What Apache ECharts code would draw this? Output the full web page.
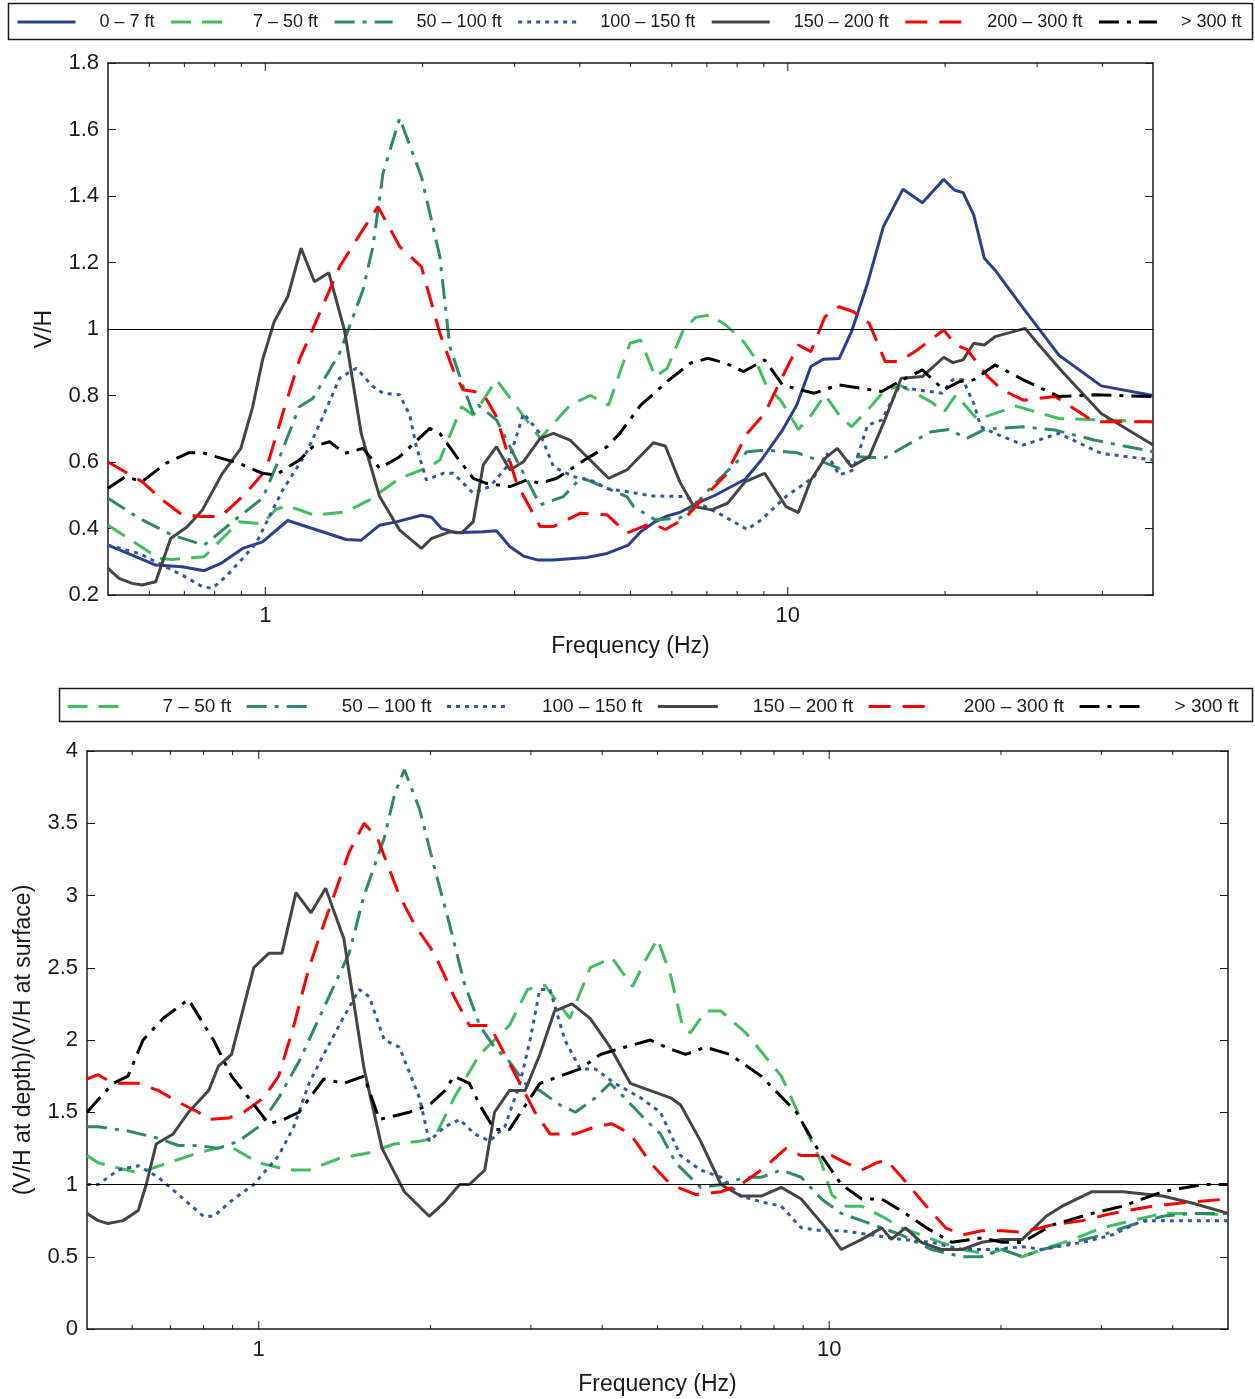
<!DOCTYPE html>
<html>
<head>
<meta charset="utf-8">
<title>V/H spectral ratios by depth</title>
<script src="https://cdn.jsdelivr.net/npm/echarts@6/dist/echarts.min.js"></script>
<style>
  html, body { margin: 0; padding: 0; background: #fff; }
  #chart { width: 1255px; height: 1399px; }
</style>
</head>
<body>
<div id="chart"></div>
<script>
// ---- data -----------------------------------------------------------
const depthBands = ['0 – 7 ft', '7 – 50 ft', '50 – 100 ft', '100 – 150 ft', '150 – 200 ft', '200 – 300 ft', '> 300 ft'];

const xTickLabels = [1, 10];
const xMinorTicks = [0.6, 0.7, 0.8, 0.9, 2, 3, 4, 5, 6, 7, 8, 9, 20, 30, 40];

// V/H spectra, [frequency (Hz), V/H]
const vh_0_7 = [[0.5,0.35],[0.556,0.32],[0.617,0.29],[0.693,0.285],[0.764,0.273],[0.822,0.295],[0.905,0.34],[0.988,0.36],[1.104,0.424],[1.428,0.367],[1.526,0.365],[1.655,0.41],[1.781,0.42],[1.99,0.44],[2.08,0.434],[2.175,0.40],[2.32,0.387],[2.61,0.39],[2.77,0.393],[2.94,0.345],[3.12,0.317],[3.33,0.305],[3.56,0.305],[4.12,0.313],[4.51,0.325],[4.95,0.35],[5.23,0.39],[5.57,0.42],[5.88,0.438],[6.21,0.448],[6.71,0.476],[7.26,0.50],[8.29,0.548],[8.9,0.606],[9.77,0.696],[10.4,0.771],[11.07,0.887],[11.69,0.909],[12.54,0.911],[13.24,0.992],[14.21,1.137],[15.24,1.308],[16.61,1.42],[18.1,1.38],[19.88,1.45],[20.83,1.418],[21.65,1.41],[22.69,1.343],[23.78,1.213],[24.93,1.177],[28.24,1.062],[33.0,0.922],[39.8,0.829],[50,0.80]];
const vh_7_50 = [[0.5,0.41],[0.626,0.31],[0.664,0.307],[0.764,0.315],[0.804,0.35],[0.891,0.42],[0.988,0.414],[1.048,0.458],[1.104,0.468],[1.242,0.44],[1.428,0.45],[1.583,0.486],[1.808,0.551],[2.064,0.586],[2.158,0.606],[2.375,0.766],[2.5,0.741],[2.77,0.847],[3.36,0.671],[3.83,0.771],[4.19,0.80],[4.54,0.771],[4.99,0.957],[5.23,0.967],[5.57,0.857],[5.88,0.882],[6.31,0.997],[6.66,1.035],[7.09,1.042],[7.61,1.012],[8.23,0.962],[8.62,0.917],[9.11,0.827],[9.69,0.786],[10.48,0.698],[11.15,0.746],[11.78,0.802],[12.54,0.741],[13.24,0.706],[14.21,0.756],[15.36,0.817],[16.48,0.829],[18.82,0.781],[19.88,0.749],[20.99,0.802],[23.06,0.728],[27.36,0.768],[33.0,0.731],[50,0.721]];
const vh_50_100 = [[0.5,0.491],[0.573,0.431],[0.664,0.38],[0.764,0.35],[0.891,0.436],[0.988,0.491],[1.048,0.586],[1.162,0.766],[1.233,0.791],[1.387,0.927],[1.538,1.117],[1.607,1.248],[1.68,1.468],[1.808,1.634],[1.99,1.458],[2.158,1.218],[2.255,0.947],[2.392,0.827],[2.5,0.746],[2.557,0.771],[2.772,0.726],[3.027,0.606],[3.357,0.471],[3.72,0.496],[4.01,0.551],[4.13,0.546],[4.92,0.496],[5.07,0.466],[5.57,0.426],[6.21,0.431],[6.61,0.466],[7.15,0.526],[8.36,0.631],[9.03,0.636],[10.4,0.628],[11.42,0.606],[12.54,0.581],[13.35,0.616],[15.36,0.613],[17.13,0.656],[18.82,0.691],[20.34,0.698],[22.0,0.671],[23.78,0.698],[28.24,0.706],[32.5,0.696],[38.6,0.666],[50,0.631]];
const vh_100_150 = [[0.5,0.35],[0.573,0.325],[0.626,0.295],[0.693,0.26],[0.758,0.225],[0.792,0.22],[0.84,0.255],[0.905,0.31],[0.96,0.355],[1.018,0.436],[1.08,0.516],[1.197,0.626],[1.289,0.736],[1.387,0.852],[1.493,0.882],[1.607,0.827],[1.68,0.807],[1.808,0.802],[1.89,0.741],[1.946,0.646],[2.034,0.546],[2.19,0.566],[2.29,0.566],[2.5,0.506],[2.69,0.526],[2.9,0.586],[3.12,0.746],[3.357,0.686],[3.56,0.586],[3.89,0.556],[4.19,0.546],[4.51,0.52],[4.92,0.511],[5.48,0.498],[6.36,0.496],[7.37,0.446],[8.36,0.397],[8.9,0.426],[9.92,0.496],[11.24,0.556],[11.87,0.626],[12.54,0.561],[13.35,0.576],[14.21,0.711],[15.12,0.726],[16.35,0.827],[17.68,0.817],[19.72,0.807],[20.66,0.847],[21.65,0.847],[22.69,0.776],[23.41,0.706],[24.93,0.686],[28.24,0.651],[33.0,0.686],[39.8,0.626],[50,0.606]];
const vh_150_200 = [[0.5,0.28],[0.525,0.25],[0.556,0.235],[0.581,0.23],[0.617,0.24],[0.659,0.37],[0.709,0.405],[0.758,0.456],[0.828,0.566],[0.898,0.641],[0.946,0.766],[0.988,0.907],[1.04,1.022],[1.104,1.097],[1.171,1.243],[1.242,1.142],[1.323,1.169],[1.418,0.996],[1.526,0.686],[1.655,0.496],[1.808,0.395],[1.99,0.34],[2.08,0.37],[2.255,0.39],[2.375,0.387],[2.5,0.42],[2.613,0.591],[2.77,0.646],[2.94,0.576],[3.12,0.601],[3.357,0.671],[3.56,0.686],[3.83,0.666],[4.54,0.551],[4.92,0.576],[5.53,0.658],[5.83,0.648],[6.21,0.541],[6.61,0.466],[7.15,0.456],[7.67,0.476],[8.29,0.541],[9.03,0.566],[9.92,0.466],[10.48,0.448],[11.07,0.546],[11.78,0.611],[12.44,0.641],[13.24,0.586],[14.32,0.616],[15.24,0.716],[16.48,0.852],[18.1,0.857],[19.88,0.915],[20.7,0.899],[21.65,0.907],[22.69,0.957],[23.78,0.952],[24.93,0.977],[28.46,1.002],[30.06,0.957],[33.5,0.872],[39.8,0.746],[50,0.651]];
const vh_200_300 = [[0.5,0.6],[0.581,0.541],[0.635,0.486],[0.693,0.441],[0.758,0.436],[0.822,0.436],[0.918,0.506],[1.003,0.576],[1.08,0.746],[1.162,0.907],[1.27,1.047],[1.387,1.187],[1.515,1.283],[1.643,1.368],[1.808,1.248],[1.99,1.187],[2.158,0.987],[2.289,0.877],[2.39,0.817],[2.61,0.807],[2.77,0.736],[3.027,0.536],[3.357,0.406],[3.56,0.406],[4.01,0.446],[4.51,0.441],[4.92,0.386],[5.48,0.416],[5.83,0.397],[6.36,0.431],[6.93,0.496],[7.61,0.561],[8.36,0.686],[9.03,0.746],[9.77,0.857],[10.48,0.952],[11.07,0.932],[11.78,1.037],[12.54,1.067],[13.35,1.052],[14.32,1.017],[15.36,0.902],[16.35,0.902],[17.69,0.937],[19.88,0.997],[20.99,0.952],[22.0,0.939],[24.15,0.857],[25.71,0.817],[28.24,0.786],[32.5,0.797],[38.6,0.721],[50,0.721]];
const vh_300 = [[0.5,0.521],[0.54,0.556],[0.581,0.541],[0.645,0.596],[0.715,0.628],[0.758,0.628],[0.804,0.616],[0.891,0.596],[0.988,0.566],[1.048,0.561],[1.162,0.606],[1.233,0.646],[1.327,0.661],[1.418,0.626],[1.538,0.641],[1.655,0.581],[1.808,0.616],[2.064,0.701],[2.158,0.686],[2.323,0.616],[2.5,0.551],[2.65,0.536],[2.94,0.526],[3.166,0.546],[3.357,0.536],[3.614,0.551],[4.13,0.611],[4.51,0.646],[4.77,0.686],[5.23,0.771],[5.93,0.847],[6.51,0.897],[7.03,0.912],[7.61,0.897],[8.23,0.872],[9.03,0.907],[9.77,0.832],[10.56,0.817],[11.24,0.807],[12.54,0.832],[13.77,0.822],[15.13,0.812],[16.35,0.842],[18.1,0.877],[19.88,0.817],[21.32,0.842],[22.69,0.847],[24.93,0.892],[28.24,0.847],[33.0,0.797],[38.6,0.802],[50,0.797]];

// Ratio of V/H at depth to V/H at surface, [frequency (Hz), ratio]
const ratio_7_50 = [[0.5,1.2],[0.523,1.15],[0.615,1.08],[0.784,1.22],[0.885,1.27],[1.0,1.15],[1.129,1.1],[1.225,1.1],[1.383,1.18],[1.562,1.22],[1.728,1.28],[1.913,1.3],[2.03,1.32],[2.2,1.6],[2.44,1.9],[2.59,2.0],[2.75,2.1],[2.96,2.35],[3.17,2.38],[3.51,2.15],[3.81,2.5],[4.16,2.57],[4.52,2.37],[4.76,2.55],[5.0,2.7],[5.27,2.45],[5.53,2.1],[5.71,2.05],[6.07,2.2],[6.46,2.2],[7.14,2.05],[8.24,1.75],[8.93,1.45],[9.69,1.15],[10.1,0.93],[10.7,0.85],[11.4,0.85],[12.36,0.78],[13.4,0.7],[14.5,0.65],[15.7,0.6],[17.1,0.55],[18.9,0.52],[20.1,0.55],[21.8,0.5],[23.6,0.55],[26.7,0.62],[30.1,0.7],[33.9,0.75],[38.4,0.8],[43.4,0.8],[50,0.79]];
const ratio_50_100 = [[0.5,1.4],[0.523,1.4],[0.59,1.37],[0.667,1.32],[0.723,1.27],[0.784,1.27],[0.85,1.25],[0.922,1.3],[1.0,1.4],[1.084,1.6],[1.176,1.85],[1.225,2.0],[1.328,2.3],[1.44,2.6],[1.53,3.0],[1.66,3.4],[1.73,3.7],[1.8,3.87],[1.913,3.6],[2.03,3.2],[2.16,2.8],[2.29,2.4],[2.44,2.1],[2.59,1.95],[2.75,1.85],[2.93,1.7],[3.11,1.65],[3.375,1.55],[3.59,1.5],[3.89,1.6],[4.13,1.7],[4.38,1.6],[4.76,1.45],[5.06,1.35],[5.38,1.15],[5.95,0.98],[6.46,1.0],[7.14,1.05],[7.6,1.05],[8.24,1.1],[8.93,1.05],[9.69,0.9],[10.5,0.8],[11.4,0.75],[12.36,0.7],[13.4,0.65],[15.1,0.55],[17.1,0.5],[18.5,0.5],[20.1,0.55],[21.8,0.5],[23.6,0.55],[26.7,0.6],[30.1,0.65],[33.9,0.72],[38.4,0.78],[43.4,0.8],[50,0.8]];
const ratio_100_150 = [[0.5,1.0],[0.523,1.0],[0.567,1.1],[0.615,1.13],[0.667,1.05],[0.738,0.9],[0.8,0.78],[0.833,0.78],[0.904,0.9],[0.98,1.0],[1.084,1.2],[1.152,1.4],[1.225,1.7],[1.3,1.9],[1.383,2.1],[1.5,2.35],[1.562,2.3],[1.66,2.0],[1.764,1.95],[1.913,1.6],[1.99,1.3],[2.12,1.4],[2.25,1.45],[2.39,1.35],[2.54,1.3],[2.7,1.4],[2.87,1.7],[2.99,2.0],[3.11,2.35],[3.24,2.35],[3.44,2.0],[3.66,1.8],[3.89,1.8],[4.21,1.7],[4.67,1.6],[5.06,1.5],[5.49,1.2],[5.95,1.1],[6.46,1.05],[7.0,0.92],[7.6,0.88],[8.24,0.85],[8.93,0.7],[9.69,0.68],[10.5,0.68],[11.9,0.65],[13.4,0.62],[15.1,0.6],[17.1,0.55],[19.3,0.55],[21.8,0.57],[23.6,0.55],[27.8,0.6],[31.3,0.65],[35.4,0.75],[41.7,0.75],[50,0.75]];
const ratio_150_200 = [[0.5,0.8],[0.523,0.75],[0.544,0.73],[0.578,0.75],[0.615,0.82],[0.635,1.0],[0.661,1.28],[0.708,1.35],[0.753,1.5],[0.817,1.65],[0.85,1.82],[0.896,1.9],[0.98,2.5],[1.041,2.6],[1.098,2.6],[1.162,3.02],[1.235,2.88],[1.31,3.05],[1.41,2.7],[1.53,1.8],[1.645,1.25],[1.8,0.95],[1.99,0.78],[2.12,0.88],[2.25,1.0],[2.34,1.0],[2.49,1.1],[2.59,1.5],[2.75,1.65],[2.93,1.65],[3.11,1.9],[3.3,2.2],[3.54,2.25],[3.81,2.15],[4.13,1.95],[4.48,1.7],[4.86,1.65],[5.27,1.6],[5.49,1.55],[5.95,1.3],[6.46,1.0],[7.0,0.92],[7.6,0.92],[8.24,0.98],[8.93,0.9],[9.86,0.7],[10.5,0.55],[11.4,0.62],[12.36,0.7],[12.85,0.62],[13.6,0.7],[14.5,0.6],[15.7,0.55],[17.1,0.55],[18.5,0.6],[20.1,0.62],[21.8,0.62],[24.0,0.78],[25.6,0.85],[28.9,0.95],[32.7,0.95],[38.4,0.92],[43.4,0.87],[50,0.8]];
const ratio_200_300 = [[0.5,1.73],[0.523,1.76],[0.555,1.7],[0.615,1.7],[0.667,1.65],[0.723,1.57],[0.784,1.5],[0.817,1.45],[0.885,1.46],[0.941,1.5],[1.02,1.6],[1.084,1.75],[1.152,2.1],[1.225,2.5],[1.3,2.8],[1.383,3.1],[1.44,3.3],[1.53,3.5],[1.613,3.4],[1.764,3.0],[1.874,2.8],[2.03,2.6],[2.2,2.3],[2.34,2.1],[2.54,2.1],[2.7,1.9],[2.87,1.7],[3.05,1.5],[3.24,1.35],[3.59,1.35],[3.89,1.4],[4.16,1.42],[4.48,1.35],[4.86,1.15],[5.27,1.0],[5.84,0.93],[6.46,0.95],[7.0,1.0],[7.6,1.1],[8.4,1.25],[8.93,1.2],[10.1,1.2],[10.7,1.15],[11.4,1.1],[12.1,1.15],[12.6,1.17],[13.4,1.05],[14.8,0.85],[16.0,0.7],[17.1,0.65],[18.5,0.68],[20.1,0.68],[21.8,0.67],[24.6,0.72],[27.8,0.75],[31.3,0.8],[36.8,0.85],[43.4,0.88],[50,0.9]];
const ratio_300 = [[0.5,1.5],[0.555,1.7],[0.59,1.75],[0.627,2.0],[0.68,2.15],[0.753,2.28],[0.833,2.0],[0.896,1.75],[0.96,1.6],[1.041,1.42],[1.107,1.45],[1.176,1.5],[1.3,1.73],[1.41,1.7],[1.53,1.75],[1.627,1.45],[1.836,1.5],[1.99,1.55],[2.12,1.65],[2.2,1.75],[2.34,1.7],[2.44,1.55],[2.59,1.38],[2.75,1.38],[3.11,1.7],[3.375,1.75],[3.66,1.8],[3.97,1.9],[4.38,1.95],[4.86,2.0],[5.17,1.95],[5.6,1.9],[6.07,1.95],[6.7,1.9],[7.6,1.75],[8.76,1.5],[9.69,1.2],[10.5,1.0],[11.4,0.9],[12.36,0.9],[13.6,0.8],[14.8,0.7],[16.4,0.6],[18.5,0.63],[20.1,0.6],[21.8,0.6],[24.6,0.72],[28.9,0.8],[32.7,0.85],[38.4,0.95],[45.2,1.0],[50,1.0]];

// ---- styling ----------------------------------------------------------
const FONT = "'Liberation Sans', Arial, Helvetica, sans-serif";
const INK = '#1a1a1a';

const bandStyle = {
  '0 – 7 ft':     { color: '#2b3f91', dash: 'solid' },
  '7 – 50 ft':    { color: '#3fbf5e', dash: [20, 11] },
  '50 – 100 ft':  { color: '#2c8a66', dash: [20, 8, 4, 8] },
  '100 – 150 ft': { color: '#3159a8', dash: [4, 5] },
  '150 – 200 ft': { color: '#454545', dash: 'solid' },
  '200 – 300 ft': { color: '#ff0000', dash: [22, 12] },
  '> 300 ft':     { color: '#000000', dash: [20, 8, 4, 8] }
};

const vhSeries = [vh_0_7, vh_7_50, vh_50_100, vh_100_150, vh_150_200, vh_200_300, vh_300];
const ratioSeries = [ratio_7_50, ratio_50_100, ratio_100_150, ratio_150_200, ratio_200_300, ratio_300];

// axis indices: 0/1 belong to the upper plot, 2/3 to the lower plot
const UPPER = 0, LOWER = 2;

function curve(name, data, axisIdx, withUnityLine) {
  const st = bandStyle[name];
  const s = {
    name, type: 'line', data,
    xAxisIndex: axisIdx, yAxisIndex: axisIdx,
    symbol: 'none', showSymbol: false, smooth: false,
    lineStyle: { color: st.color, width: 3, type: st.dash },
    itemStyle: { color: st.color },
    emphasis: { disabled: true },
    z: 3
  };
  if (withUnityLine) {
    s.markLine = {
      silent: true, symbol: 'none', animation: false,
      label: { show: false },
      lineStyle: { color: '#000', width: 1, type: 'solid' },
      emphasis: { disabled: true },
      data: [{ yAxis: 1 }]
    };
  }
  return s;
}

// frequency ticks drawn on the bottom and top edges of a plot box
function freqTicks(axisIdx, yLo, yHi) {
  const all = xTickLabels.map(v => [v, yLo, 8]).concat(xMinorTicks.map(v => [v, yLo, 4]));
  return {
    type: 'custom', silent: true, animation: false,
    xAxisIndex: axisIdx, yAxisIndex: axisIdx,
    data: all, z: 4,
    renderItem(params, api) {
      const f = api.value(0), len = api.value(2);
      const b = api.coord([f, yLo]);
      const t = api.coord([f, yHi]);
      const ls = { stroke: INK, lineWidth: 1 };
      return {
        type: 'group',
        children: [
          { type: 'line', shape: { x1: b[0], y1: b[1], x2: b[0], y2: b[1] - len }, style: ls },
          { type: 'line', shape: { x1: t[0], y1: t[1], x2: t[0], y2: t[1] + len }, style: ls }
        ]
      };
    }
  };
}

function freqAxis(gridIdx, position, nameGap) {
  const main = position === 'bottom';
  return {
    type: 'log', logBase: 10, min: 0.5, max: 50, gridIndex: gridIdx, position,
    name: main ? 'Frequency (Hz)' : '', nameLocation: 'middle', nameGap,
    nameTextStyle: { fontFamily: FONT, fontSize: 23, color: INK },
    axisLine: { show: true, onZero: false, lineStyle: { color: INK, width: 1.5 } },
    axisTick: { show: false },
    splitLine: { show: false }, minorSplitLine: { show: false },
    axisLabel: {
      show: main, margin: 10, fontFamily: FONT, fontSize: 22, color: INK,
      formatter: v => (xTickLabels.some(t => Math.abs(t - v) < 1e-6 * t) ? String(Math.round(v)) : '')
    }
  };
}

function valueAxis(gridIdx, position, min, max, interval, name, nameGap) {
  const main = position === 'left';
  return {
    type: 'value', gridIndex: gridIdx, position, min, max, interval,
    name: main ? name : '', nameLocation: 'middle', nameGap,
    nameTextStyle: { fontFamily: FONT, fontSize: 23, color: INK },
    axisLine: { show: true, onZero: false, lineStyle: { color: INK, width: 1.5 } },
    axisTick: { show: true, inside: true, length: 8, lineStyle: { color: INK, width: 1 } },
    splitLine: { show: false },
    axisLabel: { show: main, margin: 9, fontFamily: FONT, fontSize: 22, color: INK }
  };
}

const legendCommon = {
  orient: 'horizontal', itemWidth: 58, itemHeight: 16, padding: 0, width: 1240,
  selectedMode: false,
  itemStyle: { opacity: 0, borderWidth: 0 },
  lineStyle: { width: 3 },
  textStyle: { fontFamily: FONT, fontSize: 18, color: INK, padding: [0, 0, 0, 19] }
};

const chart = echarts.init(document.getElementById('chart'), null, { renderer: 'canvas' });

const series = [];
depthBands.forEach((b, i) => series.push(curve(b, vhSeries[i], UPPER, i === 0)));
depthBands.slice(1).forEach((b, i) => series.push(curve(b, ratioSeries[i], LOWER, i === 0)));
series.push(freqTicks(UPPER, 0.2, 1.8));
series.push(freqTicks(LOWER, 0, 4));

chart.setOption({
  animation: false,
  backgroundColor: '#fff',
  textStyle: { fontFamily: FONT },
  grid: [
    { left: 108, top: 63, width: 1045, height: 532 },
    { left: 87, top: 751, width: 1141, height: 578 }
  ],
  xAxis: [
    freqAxis(0, 'bottom', 40),
    freqAxis(0, 'top', 0),
    freqAxis(1, 'bottom', 44),
    freqAxis(1, 'top', 0)
  ],
  yAxis: [
    valueAxis(0, 'left', 0.2, 1.8, 0.2, 'V/H', 52),
    valueAxis(0, 'right', 0.2, 1.8, 0.2, '', 0),
    valueAxis(1, 'left', 0, 4, 0.5, '(V/H at depth)/(V/H at surface)', 52),
    valueAxis(1, 'right', 0, 4, 0.5, '', 0)
  ],
  legend: [
    Object.assign({}, legendCommon, { data: depthBands, left: 16, top: 13, itemGap: 15 }),
    Object.assign({}, legendCommon, {
      data: depthBands.slice(1), left: 66, top: 697, itemGap: 14, itemWidth: 60, width: 1200,
      textStyle: { fontFamily: FONT, fontSize: 19, color: INK, padding: [0, 0, 0, 30] }
    })
  ],
  graphic: [
    { type: 'rect', shape: { x: 8.5, y: 3.5, width: 1244, height: 36 }, style: { fill: 'none', stroke: INK, lineWidth: 1.5 }, silent: true },
    { type: 'rect', shape: { x: 59.5, y: 688.5, width: 1193, height: 33 }, style: { fill: 'none', stroke: INK, lineWidth: 1.5 }, silent: true }
  ],
  series
});
</script>
</body>
</html>
